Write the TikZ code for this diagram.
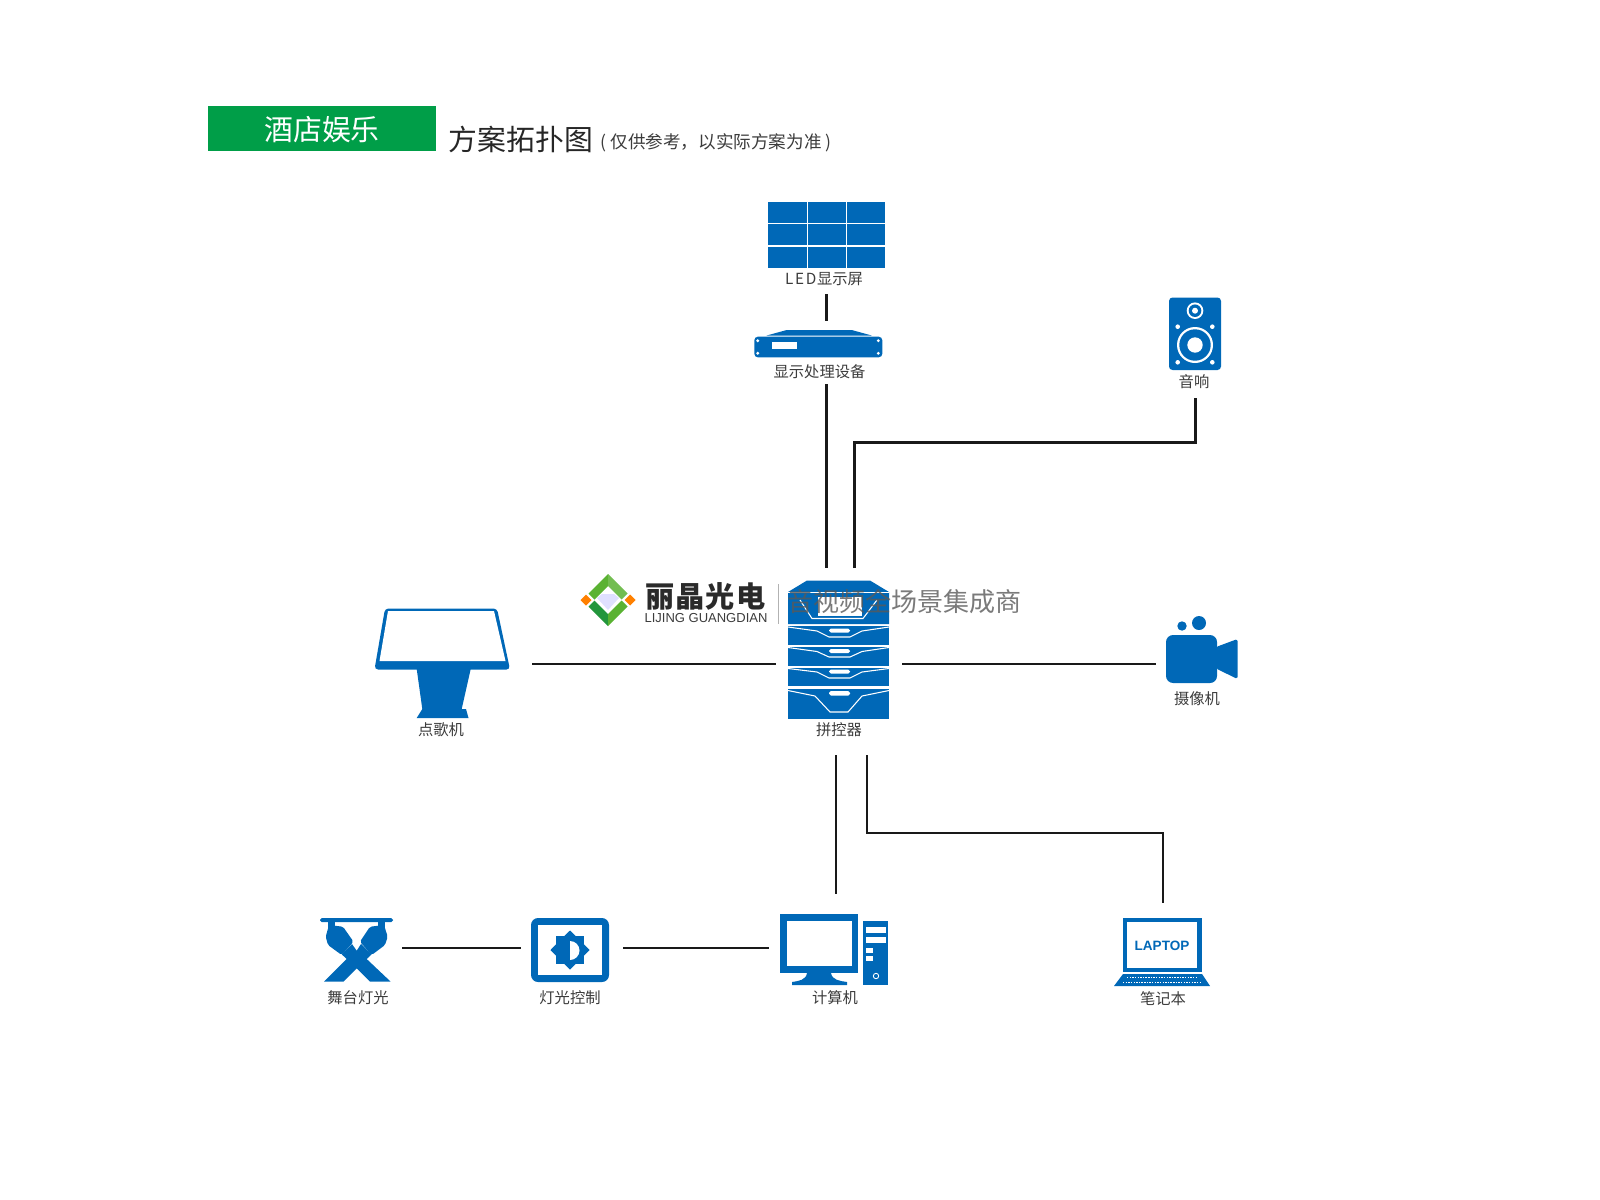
\documentclass[tikz,border=0pt]{standalone}
\usepackage{fontspec}
\setmainfont{Noto Sans CJK SC}
\newfontfamily\latinfont{Liberation Sans}
\usepackage{tikz}
\usetikzlibrary{positioning, calc, shapes.geometric}
\definecolor{azulicon}{RGB}{0,104,183}
\definecolor{verdetitle}{RGB}{0,158,72}
\definecolor{grislabel}{RGB}{60,60,60}
\definecolor{verdelogo}{RGB}{90,178,50}
\definecolor{verdeoscuro}{RGB}{35,150,60}
\tikzset{
	devlabel/.style={text=grislabel, inner sep=0pt, font=\fontsize{4.35}{5}\selectfont},
	link/.style={black!90, line width=.8pt},
	icon/.style={fill=azulicon, draw=none},
	hole/.style={fill=white, draw=none},
	thinwhite/.style={white, line width=.3pt},
}

\begin{document}
\begin{tikzpicture}[x=.01cm, y=-.01cm]
	\useasboundingbox (0,0) rectangle (1600,1200);

	%connector ends
	\coordinate (wallout) at (826.5,294);
	\coordinate (procin) at (826.5,321);
	\coordinate (procout) at (826.5,384);
	\coordinate (ctlup) at (826.5,568);
	\coordinate (ctlaudio) at (854.5,568);
	\coordinate (audiobend) at (854.5,442.5);
	\coordinate (audiocorner) at (1195.5,442.5);
	\coordinate (speakerin) at (1195.5,398);
	\coordinate (kioskout) at (532,664);
	\coordinate (ctlleft) at (775.5,664);
	\coordinate (ctlright) at (902,664);
	\coordinate (camin) at (1156,664);
	\coordinate (ctlpc) at (836,755);
	\coordinate (pcin) at (836,894);
	\coordinate (ctllap) at (867,755);
	\coordinate (lapbend) at (867,833);
	\coordinate (lapcorner) at (1163,833);
	\coordinate (lapin) at (1163,903);
	\coordinate (stageout) at (402,948);
	\coordinate (dimleft) at (521,948);
	\coordinate (dimright) at (623,948);
	\coordinate (pcleft) at (768.5,948);

	%title
	\fill [verdetitle] (208,106) rectangle (436,151);
	\node [white, inner sep=0pt, font=\fontsize{8.2}{9}\selectfont] (titlebox) at (322,130) {酒店娱乐};
	\node [black!85, anchor=west, inner sep=0pt, font=\fontsize{8.2}{9}\selectfont] (titlemain) at (448,139) {方案拓扑图};
	\node [grislabel, anchor=west, inner sep=0pt, font=\fontsize{5}{5}\selectfont] (titlenote) at (600,143) {( 仅供参考，以实际方案为准 )};

	%LED wall
	\fill [azulicon] (768.3,202.3) rectangle (885,267.7);
	\draw [white, line width=.5pt] (807.5,202.3) -- (807.5,267.7);
	\draw [white, line width=.5pt] (846.5,202.3) -- (846.5,267.7);
	\draw [white, line width=.5pt] (768.3,223.5) -- (885,223.5);
	\draw [white, line width=.5pt] (768.3,245.8) -- (885,245.8);
	\node [devlabel] (walllabel) at (824,279) {L\kern.5pt E\kern.5pt D\kern.2pt 显示屏};
	\draw [link] (wallout) -- (procin);

	%processor
	\fill [azulicon] (766.7,335.5) -- (786.7,330) -- (851.7,330) -- (871.7,335.5) -- cycle;
	\draw [icon, rounded corners=1pt] (754.3,336.7) rectangle (882.3,357.3);
	\fill [white] (771.7,342.3) rectangle (796.7,349.3);
	\fill [white] (757.7,340.7) circle [radius=1.6];
	\fill [white] (757.7,353.3) circle [radius=1.6];
	\fill [white] (878.3,340.7) circle [radius=1.6];
	\fill [white] (878.3,353.3) circle [radius=1.6];
	\node [devlabel] (proclabel) at (819.5,371.5) {显示处理设备};
	\draw [link] (procout) -- (ctlup);

	%speaker
	\draw [icon, rounded corners=1pt] (1169,297.5) rectangle (1221,370);
	\fill [white] (1195,310.7) circle [radius=8.3];
	\fill [azulicon] (1195,310.7) circle [radius=6.3];
	\fill [white] (1195,310.7) circle [radius=3];
	\fill [white] (1195,345) circle [radius=18];
	\fill [azulicon] (1195,345) circle [radius=15.7];
	\fill [white] (1195,345) circle [radius=7.7];
	\fill [white] (1177.7,326.7) circle [radius=2.3];
	\fill [white] (1212.3,326.7) circle [radius=2.3];
	\fill [white] (1177.7,362.3) circle [radius=2.3];
	\fill [white] (1212.3,362.3) circle [radius=2.3];
	\node [devlabel] (speakerlabel) at (1194,382) {音响};
	\draw [link] (ctlaudio) -- (audiobend) -- (audiocorner) -- (speakerin);

	%switcher
	\fill [azulicon] (788,592) -- (807,580.5) -- (870,580.5) -- (889,592) -- (889,624) -- (788,624) -- cycle;
	\fill [white] (818,597) rectangle (862,616);
	\draw [thinwhite] (788,592.5) -- (889,592.5);
	\draw [thinwhite] (800,600) -- (812,618.5) -- (863,618.5) -- (877,600);
	\fill [azulicon] (788,626) rectangle (889,644.5);
	\fill [azulicon] (788,646.5) rectangle (889,665.5);
	\fill [azulicon] (788,667.5) rectangle (889,686);
	\fill [azulicon] (788,688.5) rectangle (889,718.5);
	\draw [thinwhite] (788,627) -- (817,631) -- (829,637) -- (850,637) -- (862,631) -- (889,627);
	\draw [thinwhite] (788,647.5) -- (817,651.5) -- (829,657) -- (850,657) -- (862,651.5) -- (889,647.5);
	\draw [thinwhite] (788,668.5) -- (817,672) -- (829,678) -- (850,678) -- (862,672) -- (889,668.5);
	\draw [thinwhite] (788,690.5) -- (815,696) -- (830,712) -- (848,712) -- (862,696) -- (889,690.5);
	\draw [hole, rounded corners=.5pt] (829,628.5) rectangle (850,632.5);
	\draw [hole, rounded corners=.5pt] (829,649) rectangle (850,653);
	\draw [hole, rounded corners=.5pt] (829,669.5) rectangle (850,673.5);
	\draw [hole, rounded corners=.5pt] (829,691) rectangle (850,695.5);
	\node [devlabel] (ctllabel) at (839,730) {拼控器};

	%logo
	\fill [verdelogo] (608,574) -- (588.5,593.5) -- (594.5,599.5) -- (608,586) -- cycle;
	\fill [verdelogo!85!white] (608,574) -- (627.5,593.5) -- (621.5,599.5) -- (608,586) -- cycle;
	\fill [verdeoscuro] (608,626) -- (588.5,606.5) -- (594.5,600.5) -- (608,614) -- cycle;
	\fill [verdelogo] (608,626) -- (627.5,606.5) -- (621.5,600.5) -- (608,614) -- cycle;
	\fill [blue!12] (597,598) -- (602,594) -- (614,594) -- (619,598) -- (608,610) -- cycle;
	\fill [orange] (580.5,600) -- (586,594.5) -- (591.5,600) -- (586,605.5) -- cycle;
	\fill [orange] (624.5,600) -- (630,594.5) -- (635.5,600) -- (630,605.5) -- cycle;
	\node [grislabel!70!black, inner sep=0pt, font=\fontsize{8.3}{9}\bfseries\selectfont] (logoname) at (705.5,596) {丽\kern.25pt 晶\kern.25pt 光\kern.25pt 电};
	\node [grislabel, inner sep=0pt, font=\fontsize{3.7}{5}\selectfont\latinfont] (logolatin) at (706,618) {LIJING GUANGDIAN};
	\draw [gray!60, line width=.3pt] (778.6,584) -- (778.6,624);
	\node [black!65, opacity=.8, anchor=west, inner sep=0pt, font=\fontsize{7.4}{8}\selectfont] (slogan) at (787,602) {音视频全场景集成商};

	%kiosk
	\fill [azulicon, rounded corners=1pt] (385,608.5) -- (497,608.5) -- (510,669.5) -- (374.5,669.5) -- cycle;
	\fill [white] (388,611) -- (494,611) -- (505.5,661) -- (379.5,661) -- cycle;
	\fill [azulicon] (416.7,669) -- (470.7,669) -- (461.7,709) -- (466,709) -- (468.5,718) -- (416.7,718) -- (422.3,709) -- cycle;
	\node [devlabel] (kiosklabel) at (441,730) {点歌机};
	\draw [link] (kioskout) -- (ctlleft);

	%camera
	\draw [icon, rounded corners=2pt] (1166,635) rectangle (1217,683);
	\fill [azulicon, rounded corners=.5pt] (1216,647) -- (1237.5,639) -- (1237.5,679) -- (1216,668.5) -- cycle;
	\fill [azulicon] (1182,626) circle [radius=4.7];
	\fill [azulicon] (1199,623) circle [radius=7];
	\node [devlabel] (camlabel) at (1197,699) {摄像机};
	\draw [link] (ctlright) -- (camin);

	%stage light
	\fill [azulicon, rounded corners=.5pt] (320,918) rectangle (393,922);
	\fill [azulicon] (328,921) rectangle (335,928);
	\fill [azulicon] (378,921) rectangle (385,928);
	\fill [azulicon, rounded corners=.5pt] (329,925) -- (343,926.7) -- (353.5,941.7) -- (341.7,955) -- (328,945) -- (325.7,936.7) -- cycle;
	\fill [azulicon, rounded corners=.5pt] (384,925) -- (370,926.7) -- (360,941.7) -- (371.7,955) -- (385,945) -- (387.7,936.7) -- cycle;
	\fill [azulicon] (324,981.7) -- (346.7,959) -- (341.7,954.3) -- (352,944) -- (356.7,950.7) -- (361,944) -- (371.7,954.3) -- (366.7,959) -- (390.7,981.7) -- (370,981.7) -- (356.7,968.3) -- (343.3,981.7) -- cycle;
	\node [devlabel] (stagelabel) at (358,998) {舞台灯光};
	\draw [link] (stageout) -- (dimleft);

	%light control
	\draw [icon, rounded corners=2pt] (531,918) rectangle (609,982);
	\fill [white] (538,924.5) rectangle (602,975);
	\node [icon, star, star points=8, star point ratio=1.3, minimum size=.39cm, inner sep=0pt] (dimsun) at (570,950) {};
	\fill [white] (570,941) arc [start angle=-90, end angle=90, radius=9.5] -- cycle;
	\node [devlabel] (dimlabel) at (570,998) {灯光控制};
	\draw [link] (dimright) -- (pcleft);

	%computer
	\fill [azulicon] (780,914) rectangle (858,973);
	\fill [white] (787,921) rectangle (852,966);
	\fill [azulicon] (807,973) -- (831,973) .. controls (832,980) and (840,981) .. (847,982) -- (847,985) -- (792,985) -- (792,982) .. controls (799,981) and (806,980) .. (807,973) -- cycle;
	\fill [azulicon] (863,921) rectangle (888,985);
	\fill [white] (866,927) rectangle (886,933);
	\fill [white] (866,937) rectangle (886,943);
	\fill [white] (866,948) rectangle (873,953);
	\fill [white] (866,956) rectangle (873,961);
	\draw [white, line width=.25pt] (876,976) circle [radius=2.7];
	\node [devlabel] (pclabel) at (835,998) {计算机};
	\draw [link] (ctlpc) -- (pcin);

	%laptop
	\fill [azulicon] (1123,918) rectangle (1202,972);
	\fill [white] (1127,922) rectangle (1197,968);
	\node [azulicon, inner sep=0pt, font=\fontsize{3.85}{5}\bfseries\selectfont\latinfont] (laptoptext) at (1162,946) {LAPTOP};
	\fill [azulicon] (1123,974) -- (1202,974) -- (1210,986) -- (1114,986) -- cycle;
	\draw [white, line width=.5pt, dash pattern=on .4pt off .35pt] (1127,977.5) -- (1197,977.5);
	\draw [white, line width=.5pt, dash pattern=on .4pt off .35pt] (1123,982.5) -- (1201,982.5);
	\node [devlabel] (laplabel) at (1163,999) {笔记本};
	\draw [link] (ctllap) -- (lapbend) -- (lapcorner) -- (lapin);

\end{tikzpicture}
\end{document}
